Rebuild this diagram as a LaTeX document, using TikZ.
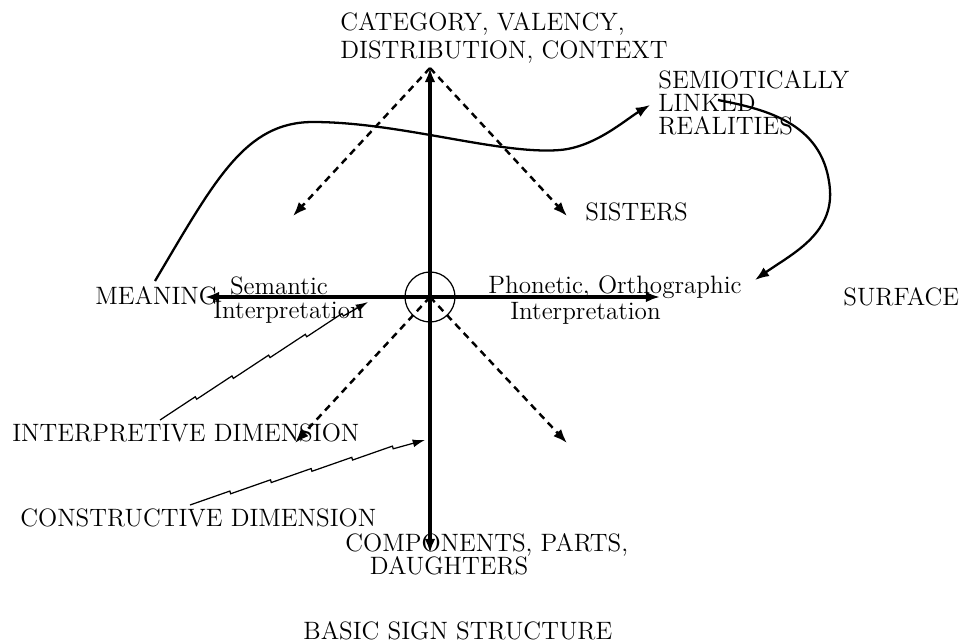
\documentclass[tikz,border=0pt]{standalone}
\usetikzlibrary{arrows.meta, decorations.pathmorphing}
\tikzset{
  lbl/.style={inner sep=0pt, font=\fontsize{14.3}{13.2}\selectfont},
  axis/.style={line width=2pt, -{Latex[length=8pt,width=6pt]}},
  sub/.style={line width=1.4pt, dash pattern=on 4pt off 3pt, -{Latex[length=8pt,width=6pt]}},
  link/.style={line width=1.3pt, -{Latex[length=8pt,width=6pt]}},
  jag/.style={line width=0.7pt, -{Latex[length=7pt,width=4.5pt]},
    decoration={saw, amplitude=1.6pt, segment length=24pt, post length=8pt}, decorate}
}
\begin{document}
\begin{tikzpicture}[x=0.02cm, y=-0.02cm]
  \useasboundingbox (0,0) rectangle (964,643);

  % centre and ends of the axes
  \coordinate (o) at (430,297);
  \coordinate (top) at (430,68);
  \coordinate (bot) at (430,553);
  \coordinate (lft) at (205,297);
  \coordinate (rgt) at (660,297);
  \coordinate (ul) at (293,216);
  \coordinate (ur) at (567,216);
  \coordinate (dl) at (295,443);
  \coordinate (dr) at (567,443);

  % labels
  \node[lbl, anchor=north west, align=left] (cat) at (340,12)
    {CATEGORY, VALENCY,\\[3pt]DISTRIBUTION, CONTEXT};
  \node[lbl, anchor=north west, align=left] (semio) at (658,70)
    {SEMIOTICALLY\\LINKED\\REALITIES};
  \node[lbl, anchor=base west] (sis) at (585,220) {SISTERS};
  \node[lbl, anchor=base west] (mean) at (95,304) {MEANING};
  \node[lbl, anchor=base west] (surf) at (843,305) {SURFACE};
  \node[lbl, anchor=north west, align=left] (sem) at (213,276)
    {\hspace*{9.5pt}Semantic\\[1pt]Interpretation};
  \node[lbl, anchor=north west, align=left] (phon) at (488,275)
    {Phonetic, Orthographic\\[2pt]\hspace*{12.5pt}Interpretation};
  \node[lbl, anchor=base west] (intd) at (12,441) {INTERPRETIVE DIMENSION};
  \node[lbl, anchor=base west] (cond) at (20,526) {CONSTRUCTIVE DIMENSION};
  \node[lbl, anchor=north west, align=left] (comp) at (345,533)
    {COMPONENTS, PARTS,\\\hspace*{14pt}DAUGHTERS};
  \node[lbl, anchor=base west] (title) at (303,639) {BASIC SIGN STRUCTURE};

  % axes
  \draw[line width=0.7pt] (o) circle[radius=25];
  \draw[axis] (o) -- (top);
  \draw[axis] (o) -- (bot);
  \draw[axis] (o) -- (lft);
  \draw[axis] (o) -- (rgt);

  % dashed arrows
  \draw[sub] (top) -- (ul);
  \draw[sub] (top) -- (ur);
  \draw[sub] (o) -- (dl);
  \draw[sub] (o) -- (dr);

  % curved links
  \coordinate (m1) at (155,281);
  \coordinate (s1) at (650,105);
  \coordinate (s2) at (718,100);
  \coordinate (f1) at (755,280);
  \draw[link] (m1) .. controls (215,180) and (245,122) .. (313,122)
    .. controls (400,122) and (500,155) .. (560,150)
    .. controls (595,147) and (625,120) .. (s1);
  \draw[link] (s2) .. controls (770,110) and (825,125) .. (830,190)
    .. controls (833,235) and (790,255) .. (f1);

  % jagged pointers
  \coordinate (j1) at (160,420);
  \coordinate (j2) at (368,302);
  \coordinate (k1) at (190,505);
  \coordinate (k2) at (425,440);
  \draw[jag] (j1) -- (j2);
  \draw[jag] (k1) -- (k2);
\end{tikzpicture}
\end{document}
